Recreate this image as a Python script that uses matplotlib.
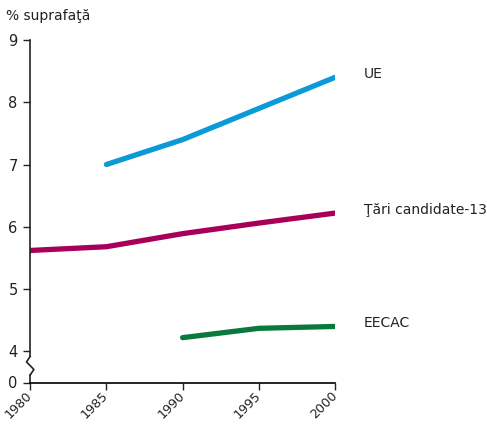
import matplotlib
matplotlib.use("Agg")
import matplotlib.pyplot as plt
import numpy as np

plt.rcParams['font.family'] = ['DejaVu Sans']

years_ue = [1985, 1990, 1995, 2000]
ue = [7.0, 7.4, 7.9, 8.4]
years_cand = [1980, 1985, 1990, 1995, 2000]
cand = [5.62, 5.68, 5.89, 6.06, 6.22]
years_eecac = [1990, 1995, 2000]
eecac = [4.22, 4.37, 4.40]

x_ticks = [1980, 1985, 1990, 1995, 2000]
y_ticks = [9, 8, 7, 6, 5, 4]
y_zero_pos = 3.5  # display position of "0" below the axis break

labels = ["UE", "Ţări candidate-13", "EECAC"]
colors = ["#0a9ad8", "#a8005a", "#0a7a3c"]

fig = plt.figure(figsize=(4.87, 4.25), dpi=100)
ax = fig.add_axes([0.062, 0.1, 0.626, 0.806])

for xs, ys, c in [(years_ue, ue, colors[0]), (years_cand, cand, colors[1]), (years_eecac, eecac, colors[2])]:
    ax.plot(xs, ys, color=c, lw=3.8, solid_capstyle='round', solid_joinstyle='round')

for xs, ys, lab in [(years_ue, ue, labels[0]), (years_cand, cand, labels[1]), (years_eecac, eecac, labels[2])]:
    ax.text(2001.9, ys[-1] + 0.05, lab, fontsize=10, va='center', ha='left', color='#222222', clip_on=False)

ax.set_xlim(1980, 2000)
ax.set_ylim(y_zero_pos, 9)
ax.set_xticks(x_ticks)
ax.set_xticklabels([str(v) for v in x_ticks], rotation=45, ha='right', va='center', rotation_mode='anchor', fontsize=9.2)
ax.set_yticks(y_ticks + [y_zero_pos])
ax.set_yticklabels([str(v) for v in y_ticks] + ["0"], fontsize=10.5)
ax.tick_params(axis='both', length=5, width=1, color='#222222', labelcolor='#222222')
ax.tick_params(axis='y', pad=4)
ax.tick_params(axis='x', pad=3)

for s in ['top', 'right', 'left']:
    ax.spines[s].set_visible(False)
ax.spines['bottom'].set_linewidth(1.2)

# left spine with a zigzag break
tr = ax.transAxes
h = 9 - y_zero_pos
def fy(v):
    return (v - y_zero_pos) / h
b_top = fy(3.92)
b_bot = fy(3.62)
ax.plot([0, 0], [1, b_top], color='#222222', lw=1.2, transform=tr, clip_on=False)
zx = [0, -0.012, 0.012, 0]
zy = [b_top, b_top - (b_top - b_bot) * 0.3, b_top - (b_top - b_bot) * 0.7, b_bot]
ax.plot(zx, zy, color='#222222', lw=1.2, transform=tr, clip_on=False)
ax.plot([0, 0], [b_bot, 0], color='#222222', lw=1.2, transform=tr, clip_on=False)

fig.text(0.012, 0.962, "% suprafaţă", fontsize=10, ha='left', va='center', color='#222222')

fig.savefig("out.png", dpi=100)
